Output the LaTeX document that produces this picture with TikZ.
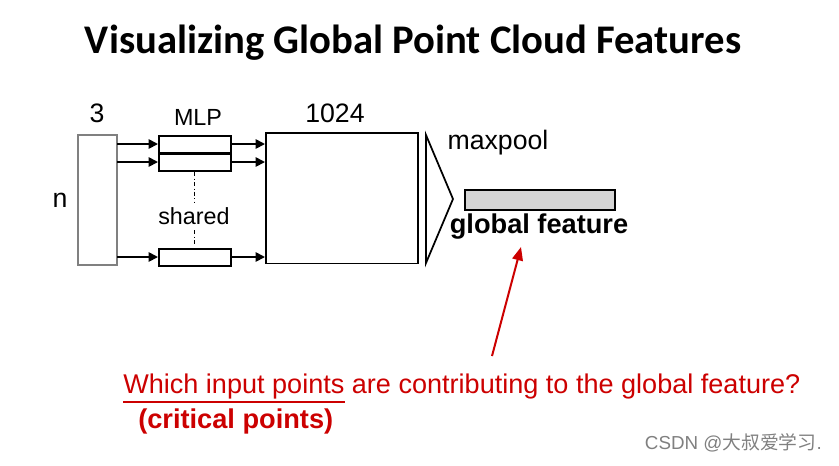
\documentclass[tikz,border=0pt]{standalone}
\usepackage{fontspec}
\setmainfont{Liberation Sans}
\newfontfamily\titlefont{Carlito}
\newfontfamily\cjk{Noto Sans CJK SC}
\usetikzlibrary{arrows.meta}
\definecolor{redc}{RGB}{204,0,0}
\begin{document}
\begin{tikzpicture}[x=0.75pt,y=-0.75pt,
  box/.style={draw,line width=1.3pt},
  arr/.style={-{Triangle[length=7pt,width=7pt]},line width=1.3pt},
  lbl/.style={font=\fontsize{20}{24}\selectfont},
  slbl/.style={font=\fontsize{17.5}{21}\selectfont},
  every node/.style={inner sep=0pt}]
\useasboundingbox (0,0) rectangle (839,465);
\node[font=\titlefont\bfseries\fontsize{30.5}{36}\selectfont] (title) at (413,43) {Visualizing Global Point Cloud Features};
\draw[draw=gray,line width=1.5pt] (78,135) rectangle (117,265);
\node[lbl] (three) at (97,113) {3};
\node[lbl] (n) at (60,200) {n};
\node[slbl] (mlp) at (198,117) {MLP};
\node[lbl] (k) at (335,113) {1024};
\node[box,minimum width=54pt,minimum height=13pt,anchor=north west] (m1) at (158,135) {};
\node[box,minimum width=54pt,minimum height=13pt,anchor=north west] (m2) at (158,153) {};
\node[box,minimum width=54pt,minimum height=13pt,anchor=north west] (m3) at (158,248) {};
\node[box,minimum width=114pt,minimum height=98pt,anchor=north west] (big) at (265,132) {};
\foreach \m/\y in {m1/144,m2/162,m3/257}{
  \draw[arr] (117,\y) -- (\m.west|-0,\y);
  \draw[arr] (\m.east|-0,\y) -- (big.west|-0,\y);
}
\draw[dash dot,line width=0.6pt] (194,172) -- (194,203);
\draw[dash dot,line width=0.6pt] (194,230) -- (194,246);
\node[slbl] (sh) at (194,216) {shared};
\draw[line width=1.3pt,line join=miter] (426,135) -- (453,199) -- (426,263) -- cycle;
\node[lbl] (mp) at (498,143) {maxpool};
\node[box,fill=black!17,minimum width=112.5pt,minimum height=15pt,anchor=north west] (bar) at (464,189) {};
\node[font=\bfseries\fontsize{20.4}{24}\selectfont] (gf) at (539,227) {global feature};
\coordinate (tail) at (492,356);
\draw[redc,line width=1.5pt,-{Triangle[length=10pt,width=8pt]}] (tail) -- (521,247);
\node[text=redc,anchor=west,font=\fontsize{20.3}{24}\selectfont] (q) at (123,386) {Which input points are contributing to the global feature?};
\draw[redc,line width=1pt] (123,402) -- (345,402);
\node[text=redc,anchor=west,font=\bfseries\fontsize{20.4}{24}\selectfont] (cp) at (138,421) {(critical points)};
\node[text=gray,anchor=east,font=\fontsize{14.1}{17}\selectfont] (wm) at (822,443) {CSDN @{\cjk 大叔爱学习}.};
\end{tikzpicture}
\end{document}
